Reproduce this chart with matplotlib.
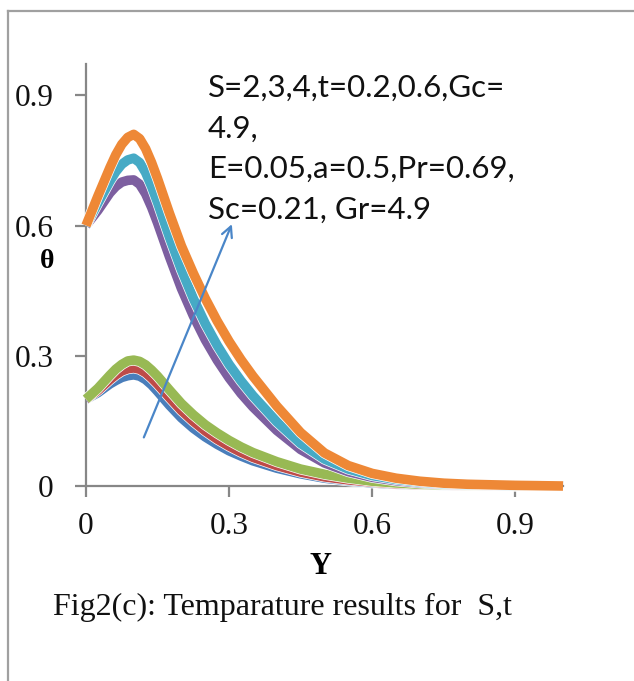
import matplotlib
matplotlib.use("Agg")
import matplotlib.pyplot as plt
import matplotlib.patheffects as pe
from matplotlib.lines import Line2D

# ---------------- data ----------------
y_pos = [0, 0.025, 0.05, 0.0625, 0.075, 0.0875, 0.1, 0.1125, 0.125, 0.1375, 0.15, 0.175,
         0.2, 0.225, 0.25, 0.275, 0.3, 0.325, 0.35, 0.4, 0.45, 0.5, 0.55, 0.6, 0.65, 0.7,
         0.75, 0.8, 0.9, 1.0]

theta_blue = [0.20, 0.215, 0.235, 0.243, 0.25, 0.254, 0.256, 0.253, 0.245, 0.233, 0.218, 0.186,
              0.157, 0.133, 0.113, 0.096, 0.081, 0.069, 0.058, 0.041, 0.028, 0.018, 0.012, 0.007,
              0.004, 0.0025, 0.0015, 0.001, 0.0002, 0.0]
theta_red = [0.20, 0.22, 0.245, 0.256, 0.265, 0.27, 0.272, 0.269, 0.261, 0.249, 0.235, 0.204,
             0.174, 0.149, 0.127, 0.108, 0.092, 0.078, 0.066, 0.047, 0.032, 0.021, 0.014, 0.009,
             0.005, 0.003, 0.002, 0.001, 0.0003, 0.0]
theta_green = [0.20, 0.225, 0.255, 0.269, 0.28, 0.288, 0.29, 0.287, 0.279, 0.267, 0.253, 0.221,
               0.19, 0.164, 0.141, 0.122, 0.105, 0.09, 0.077, 0.056, 0.039, 0.027, 0.018, 0.011,
               0.007, 0.004, 0.0025, 0.0015, 0.0005, 0.0]
theta_purple = [0.60, 0.635, 0.675, 0.69, 0.70, 0.704, 0.705, 0.695, 0.673, 0.642, 0.606, 0.528,
                0.455, 0.392, 0.337, 0.29, 0.249, 0.213, 0.182, 0.128, 0.084, 0.053, 0.033, 0.020,
                0.012, 0.007, 0.004, 0.002, 0.001, 0.0]
theta_teal = [0.60, 0.652, 0.702, 0.724, 0.741, 0.751, 0.755, 0.745, 0.722, 0.69, 0.653, 0.573,
              0.498, 0.432, 0.374, 0.324, 0.28, 0.242, 0.208, 0.148, 0.098, 0.062, 0.039, 0.024,
              0.015, 0.009, 0.005, 0.003, 0.001, 0.0]
theta_orange = [0.60, 0.668, 0.733, 0.763, 0.787, 0.803, 0.81, 0.80, 0.777, 0.745, 0.708, 0.628,
                0.553, 0.49, 0.432, 0.38, 0.333, 0.291, 0.253, 0.184, 0.123, 0.076, 0.047, 0.029,
                0.018, 0.011, 0.0065, 0.004, 0.0015, 0.0]

series = [theta_blue, theta_red, theta_green, theta_purple, theta_teal, theta_orange]
colors = ["#4A7EBB", "#BE4B48", "#98B954", "#7D5FA0", "#46AAC5", "#EE8836"]

x_ticks = [0, 0.3, 0.6, 0.9]
y_ticks = [0, 0.3, 0.6, 0.9]
x_tick_labels = ["0", "0.3", "0.6", "0.9"]
y_tick_labels = ["0", "0.3", "0.6", "0.9"]

annotation_lines = ["S=2,3,4,t=0.2,0.6,Gc=", "4.9,", "E=0.05,a=0.5,Pr=0.69,", "Sc=0.21, Gr=4.9"]
x_label = "Y"
y_label = "\u03b8"
caption = "Fig2(c): Temparature results for  S,t"

# ---------------- figure ----------------
W, H = 634, 681
fig = plt.figure(figsize=(W / 100, H / 100), dpi=100)

def fx(px):
    return px / W

def fy(py):
    return 1 - py / H

ax_left, ax_right, ax_bottom_px, ax_top_px = 86, 563, 486, 64
ax = fig.add_axes([fx(ax_left), fy(ax_bottom_px), fx(ax_right) - fx(ax_left), fy(ax_top_px) - fy(ax_bottom_px)])
ax.set_xlim(0, 1.0)
ax.set_ylim(0, 0.972)

for vals, c in zip(series, colors):
    ax.plot(y_pos, vals, color=c, lw=6.9, solid_joinstyle="round", solid_capstyle="butt",
            path_effects=[pe.Stroke(linewidth=7.9, foreground="white"), pe.Normal()], clip_on=False)

for s in ["top", "right"]:
    ax.spines[s].set_visible(False)
for s in ["left", "bottom"]:
    ax.spines[s].set_color("#878787")
    ax.spines[s].set_linewidth(1.6)
    ax.spines[s].set_zorder(0.5)

ax.set_xticks(x_ticks)
ax.set_xticklabels(x_tick_labels)
ax.set_yticks(y_ticks)
ax.set_yticklabels(y_tick_labels)
ax.tick_params(axis="both", direction="out", length=8, width=1.6, color="#878787",
               labelsize=22.5, labelcolor="#111111")
ax.tick_params(axis="y", pad=15.5)
ax.tick_params(axis="x", pad=11)
for lab in ax.get_xticklabels() + ax.get_yticklabels():
    lab.set_family("Liberation Serif")

ax.annotate("", xy=(0.308, 0.609), xytext=(0.119, 0.106),
            arrowprops=dict(arrowstyle="->,head_length=0.75,head_width=0.38", color="#4A86C8", lw=1.6),
            zorder=10)

# annotation text
baselines = [97, 138, 178, 219]
for line, b in zip(annotation_lines, baselines):
    fig.text(fx(208), fy(b), line, fontsize=22.5, family="Lato", color="#111111",
             ha="left", va="baseline")

fig.text(fx(47), fy(262), y_label, fontsize=20, family="Liberation Serif", weight="bold",
         ha="center", va="center")
fig.text(fx(321), fy(567), x_label, fontsize=22, family="Liberation Serif", weight="bold",
         ha="center", va="center")
fig.text(fx(53), fy(615), caption, fontsize=23, family="Liberation Serif", color="#111111",
         ha="left", va="baseline")

# frame
fig.add_artist(Line2D([fx(7.5), fx(7.5)], [fy(11), fy(681)], color="#A0A0A0", lw=1.6))
fig.add_artist(Line2D([fx(7.5), fx(634)], [fy(11), fy(11)], color="#A0A0A0", lw=1.6))

fig.savefig("out.png", dpi=100)
